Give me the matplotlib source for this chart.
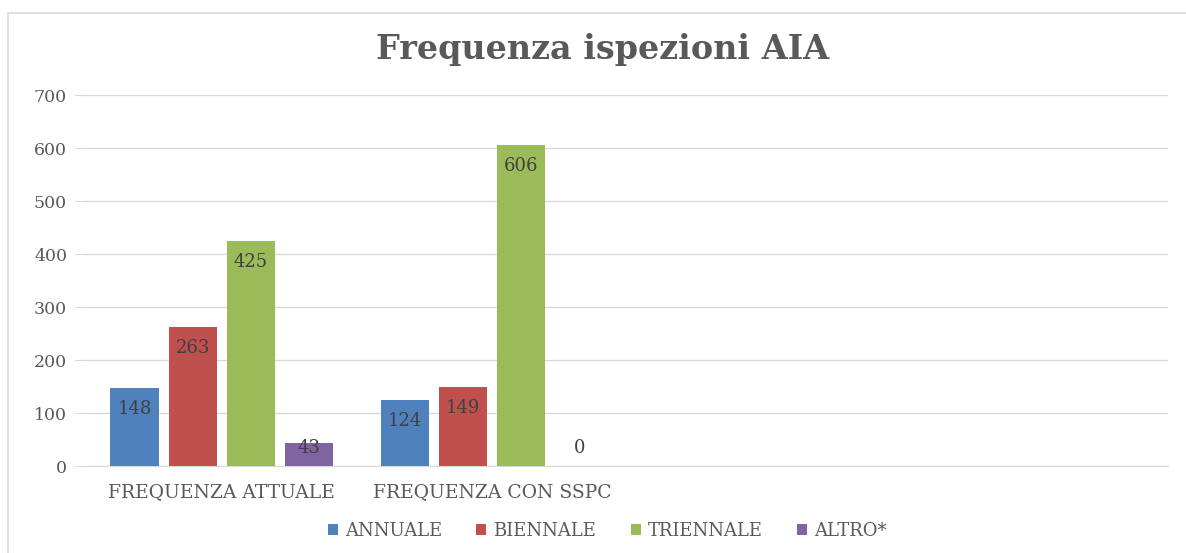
import numpy as np
import matplotlib.pyplot as plt
from matplotlib.patches import Rectangle

# dati del grafico
categorie = ['FREQUENZA ATTUALE', 'FREQUENZA CON SSPC', '', '']
serie = ['ANNUALE', 'BIENNALE', 'TRIENNALE', 'ALTRO*']
annuale = [148, 124, np.nan, np.nan]
biennale = [263, 149, np.nan, np.nan]
triennale = [425, 606, np.nan, np.nan]
altro = [43, 0, np.nan, np.nan]
valori = [annuale, biennale, triennale, altro]
colori = ['#4F81BD', '#C0504D', '#9BBB59', '#8064A2']
yticks = [0, 100, 200, 300, 400, 500, 600, 700]

plt.rcParams['font.family'] = ['DejaVu Serif']
testo = '#595959'

fig = plt.figure(figsize=(11.86, 5.53), dpi=100)
ax = fig.add_axes([0.0729, 0.1573, 0.9123, 0.6709])

# cornice grigia attorno al grafico
fig.patches.append(Rectangle((8 / 1186, -0.1), 1.2, 1 - 13 / 553 + 0.1,
                             transform=fig.transFigure, fill=False,
                             edgecolor='#D9D9D9', linewidth=1.2))

x = np.arange(len(categorie))
larg = 0.178
passo = 0.215
for i, (nome, v, c) in enumerate(zip(serie, valori, colori)):
    pos = x + (i - 1.5) * passo
    ax.bar(pos, v, width=larg, color=c, label=nome, zorder=3)
    for p, val in zip(pos, v):
        if np.isnan(val):
            continue
        ax.text(p, max(val - 40, 34), f'{int(val)}', ha='center', va='center',
                fontsize=13, color='#404040', zorder=4)

ax.set_xlim(-0.5, len(categorie) - 0.5)
ax.set_ylim(0, 700)
ax.set_yticks(yticks)
ax.set_xticks(x)
ax.set_xticklabels(categorie, fontsize=13.5, color=testo)
ax.grid(axis='y', color='#D9D9D9', linewidth=1, zorder=0)
for s in ['top', 'right', 'left']:
    ax.spines[s].set_visible(False)
ax.spines['bottom'].set_color('#D9D9D9')
ax.tick_params(axis='y', length=8, color='#D9D9D9', labelsize=12.5,
               labelcolor=testo, pad=6)
ax.tick_params(axis='x', length=0, pad=12)

fig.suptitle('Frequenza ispezioni AIA', x=0.508, y=0.94, fontsize=24,
             fontweight='bold', color=testo)

fig.legend(loc='center', bbox_to_anchor=(0.512, 1 - 531 / 553),
           ncol=4, frameon=False, fontsize=13, labelcolor=testo,
           handlelength=0.55, handleheight=0.55, handletextpad=0.4,
           columnspacing=1.9)

fig.savefig('out.png', dpi=100)
